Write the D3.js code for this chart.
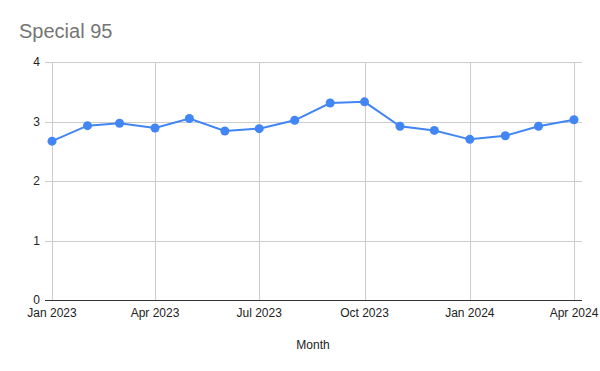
<!DOCTYPE html>
<html>
<head>
<meta charset="utf-8">
<script src="https://cdn.jsdelivr.net/npm/d3@7"></script>
<style>
  body { margin: 0; background: #fff; }
  text { font-family: "Liberation Sans", Arial, sans-serif; }
</style>
</head>
<body>
<svg id="chart" width="600" height="371"></svg>
<script>

var months = ["2023-01", "2023-02", "2023-03", "2023-04", "2023-05", "2023-06", "2023-07", "2023-08",
              "2023-09", "2023-10", "2023-11", "2023-12", "2024-01", "2024-02", "2024-03", "2024-04"];
var prices = [2.67, 2.93, 2.97, 2.89, 3.05, 2.84, 2.88, 3.02, 3.31, 3.33, 2.92, 2.85, 2.70, 2.76, 2.92, 3.03];
var yTicks = [0, 1, 2, 3, 4];
var xTicks = ["2023-01", "2023-04", "2023-07", "2023-10", "2024-01", "2024-04"];

var width = 600,
    height = 371,
    margin = {top: 62, right: 26, bottom: 71, left: 52};

var parse = d3.timeParse("%Y-%m"),
    fmt = d3.timeFormat("%b %Y");

var data = months.map(function(m, i) { return [parse(m), prices[i]]; });

var svg = d3.select("#chart");

var x = d3.scaleTime()
    .domain([parse(months[0]), parse(months[months.length - 1])])
    .range([margin.left, width - margin.right]);

var y = d3.scaleLinear()
    .domain([0, 4])
    .range([height - margin.bottom, margin.top]);

// title
svg.append("text")
    .attr("x", 19)
    .attr("y", 38)
    .attr("font-size", "20px")
    .style("fill", "#757575")
    .text("Special 95");

// horizontal grid
svg.append("g")
    .selectAll("line")
    .data(yTicks.filter(function(d) { return d > 0; }))
  .enter().append("line")
    .attr("x1", margin.left - 7)
    .attr("x2", width - margin.right + 8)
    .attr("y1", function(d) { return Math.round(y(d)) + 0.5; })
    .attr("y2", function(d) { return Math.round(y(d)) + 0.5; })
    .style("stroke", "#cccccc")
    .style("stroke-width", 1);

// vertical grid
svg.append("g")
    .selectAll("line")
    .data(xTicks.map(parse))
  .enter().append("line")
    .attr("x1", function(d) { return Math.round(x(d)) + 0.5; })
    .attr("x2", function(d) { return Math.round(x(d)) + 0.5; })
    .attr("y1", y(4))
    .attr("y2", y(0))
    .style("stroke", "#cccccc")
    .style("stroke-width", 1);

// baseline
svg.append("line")
    .attr("x1", margin.left - 7)
    .attr("x2", width - margin.right + 8)
    .attr("y1", Math.round(y(0)) + 0.5)
    .attr("y2", Math.round(y(0)) + 0.5)
    .style("stroke", "#333")
    .style("stroke-width", 1);

// y labels
svg.append("g")
    .selectAll("text")
    .data(yTicks)
  .enter().append("text")
    .attr("x", margin.left - 12)
    .attr("y", function(d) { return y(d); })
    .attr("dy", "0.35em")
    .attr("font-size", "12px")
    .style("text-anchor", "end")
    .style("fill", "#222")
    .text(function(d) { return d; });

// x labels
svg.append("g")
    .selectAll("text")
    .data(xTicks.map(parse))
  .enter().append("text")
    .attr("x", function(d) { return x(d); })
    .attr("y", y(0) + 17)
    .attr("font-size", "12px")
    .style("text-anchor", "middle")
    .style("fill", "#222")
    .text(function(d) { return fmt(d); });

// axis title
svg.append("text")
    .attr("x", (margin.left + width - margin.right) / 2)
    .attr("y", 349)
    .attr("font-size", "12px")
    .style("text-anchor", "middle")
    .style("fill", "#222")
    .text("Month");

var line = d3.line()
    .x(function(d) { return x(d[0]); })
    .y(function(d) { return y(d[1]); });

svg.append("path")
    .datum(data)
    .attr("d", line)
    .style("fill", "none")
    .style("stroke", "#4285f4")
    .style("stroke-width", 2);

svg.append("g")
    .selectAll("circle")
    .data(data)
  .enter().append("circle")
    .attr("cx", function(d) { return x(d[0]); })
    .attr("cy", function(d) { return y(d[1]); })
    .attr("r", 4.5)
    .style("fill", "#4285f4");

</script>
</body>
</html>
